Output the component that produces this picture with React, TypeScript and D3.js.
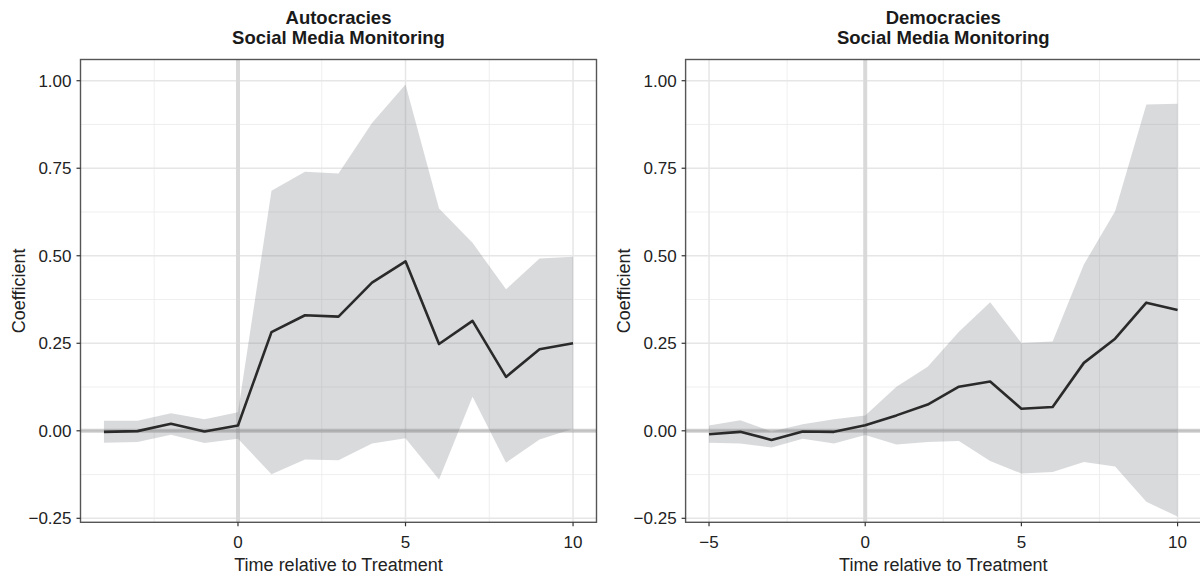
import React from 'react';
import * as d3 from 'd3';

// Autocracies panel
const autoTime = [-4, -3, -2, -1, 0, 1, 2, 3, 4, 5, 6, 7, 8, 9, 10];
const autoEstimate = [-0.003, -0.001, 0.02, -0.002, 0.015, 0.282, 0.33, 0.326, 0.423, 0.484, 0.248, 0.314, 0.154, 0.233, 0.25];
const autoLower = [-0.034, -0.032, -0.011, -0.035, -0.023, -0.124, -0.082, -0.084, -0.036, -0.021, -0.139, 0.097, -0.091, -0.025, 0.006];
const autoUpper = [0.029, 0.029, 0.05, 0.033, 0.053, 0.686, 0.74, 0.735, 0.879, 0.989, 0.635, 0.537, 0.404, 0.492, 0.497];

// Democracies panel
const demoTime = [-5, -4, -3, -2, -1, 0, 1, 2, 3, 4, 5, 6, 7, 8, 9, 10];
const demoEstimate = [-0.01, -0.003, -0.026, -0.002, -0.003, 0.016, 0.044, 0.075, 0.126, 0.141, 0.063, 0.068, 0.194, 0.263, 0.366, 0.345];
const demoLower = [-0.034, -0.036, -0.048, -0.023, -0.036, -0.012, -0.039, -0.032, -0.029, -0.086, -0.122, -0.118, -0.089, -0.102, -0.203, -0.245];
const demoUpper = [0.015, 0.03, -0.002, 0.019, 0.033, 0.044, 0.126, 0.183, 0.283, 0.367, 0.251, 0.255, 0.475, 0.627, 0.932, 0.934];

const yTicks = [-0.25, 0, 0.25, 0.5, 0.75, 1.0];
const yMinor = [-0.125, 0.125, 0.375, 0.625, 0.875];
const xTicks = [-5, 0, 5, 10];
const xMinor = [-2.5, 2.5, 7.5];

const FONT = 'Liberation Sans, Arial, Helvetica, sans-serif';
const TOP = 59.5;
const BOTTOM = 522.3;

type PanelProps = {
  id: string;
  title: string;
  time: number[];
  est: number[];
  lo: number[];
  hi: number[];
  xDomain: [number, number];
  left: number;
  right: number;
};

function Panel({ id, title, time, est, lo, hi, xDomain, left, right }: PanelProps) {
  const x = d3.scaleLinear().domain(xDomain).range([left, right]);
  const y = d3.scaleLinear().domain([-0.2614, 1.0606]).range([BOTTOM, TOP]);
  const idx = d3.range(time.length);

  const area = d3.area<number>()
    .x(i => x(time[i]))
    .y0(i => y(lo[i]))
    .y1(i => y(hi[i]));
  const line = d3.line<number>()
    .x(i => x(time[i]))
    .y(i => y(est[i]));

  const inX = (v: number) => v >= xDomain[0] && v <= xDomain[1];
  const cx = (left + right) / 2;
  const cy = (TOP + BOTTOM) / 2;
  const fmt = d3.format('.2f');
  const [t1, t2] = title.split('\n');

  return (
    <g>
      <defs>
        <clipPath id={id}>
          <rect x={left} y={TOP} width={right - left} height={BOTTOM - TOP} />
        </clipPath>
      </defs>
      <g clipPath={`url(#${id})`}>
        <rect x={left} y={TOP} width={right - left} height={BOTTOM - TOP} fill="#fff" />
        {yMinor.map(v => (
          <line key={'ym' + v} x1={left} x2={right} y1={y(v)} y2={y(v)} stroke="#ebebeb" strokeWidth={0.8} />
        ))}
        {xMinor.filter(inX).map(v => (
          <line key={'xm' + v} x1={x(v)} x2={x(v)} y1={TOP} y2={BOTTOM} stroke="#ebebeb" strokeWidth={0.8} />
        ))}
        {yTicks.map(v => (
          <line key={'yM' + v} x1={left} x2={right} y1={y(v)} y2={y(v)} stroke="#e6e6e6" strokeWidth={1.5} />
        ))}
        {xTicks.filter(inX).map(v => (
          <line key={'xM' + v} x1={x(v)} x2={x(v)} y1={TOP} y2={BOTTOM} stroke="#e6e6e6" strokeWidth={1.5} />
        ))}
        <line x1={x(0)} x2={x(0)} y1={TOP} y2={BOTTOM} stroke="#d9d9d9" strokeWidth={4} />
        <path d={area(idx) || ''} fill="rgb(120,122,128)" fillOpacity={0.28} />
        <line x1={left} x2={right} y1={y(0)} y2={y(0)} stroke="#787878" strokeOpacity={0.35} strokeWidth={4} />
        <path d={line(idx) || ''} fill="none" stroke="#2a2a2a" strokeWidth={2.6} strokeLinejoin="round" />
      </g>
      <rect x={left} y={TOP} width={right - left} height={BOTTOM - TOP} fill="none" stroke="#555" strokeWidth={1.4} />

      {yTicks.map(v => (
        <g key={'yt' + v}>
          <line x1={left - 4} x2={left} y1={y(v)} y2={y(v)} stroke="#333" strokeWidth={1.2} />
          <text x={left - 9} y={y(v)} dy="0.35em" textAnchor="end" fontSize={17} fill="#222" fontFamily={FONT}>
            {fmt(v).replace('-', '\u2212')}
          </text>
        </g>
      ))}
      {xTicks.filter(inX).map(v => (
        <g key={'xt' + v}>
          <line x1={x(v)} x2={x(v)} y1={BOTTOM} y2={BOTTOM + 4} stroke="#333" strokeWidth={1.2} />
          <text x={x(v)} y={547.5} textAnchor="middle" fontSize={17} fill="#222" fontFamily={FONT}>
            {String(v).replace('-', '\u2212')}
          </text>
        </g>
      ))}

      <text x={cx} y={570.5} textAnchor="middle" fontSize={18} fill="#222" fontFamily={FONT}>
        Time relative to Treatment
      </text>
      <text transform={`translate(${left - 56},${cy}) rotate(-90)`} textAnchor="middle" fontSize={18} fill="#222" fontFamily={FONT}>
        Coefficient
      </text>
      <text x={cx} y={24} textAnchor="middle" fontSize={18.5} fontWeight="bold" fill="#1a1a1a" fontFamily={FONT}>
        {t1}
      </text>
      <text x={cx} y={44} textAnchor="middle" fontSize={18.5} fontWeight="bold" fill="#1a1a1a" fontFamily={FONT}>
        {t2}
      </text>
    </g>
  );
}

export default function App() {
  return (
    <svg width={1200} height={577} style={{ position: 'absolute', left: 0, top: 0, background: '#fff' }}>
      <Panel
        id="clip-auto"
        title={'Autocracies\nSocial Media Monitoring'}
        time={autoTime}
        est={autoEstimate}
        lo={autoLower}
        hi={autoUpper}
        xDomain={[-4.7, 10.7]}
        left={80.5}
        right={596.5}
      />
      <Panel
        id="clip-demo"
        title={'Democracies\nSocial Media Monitoring'}
        time={demoTime}
        est={demoEstimate}
        lo={demoLower}
        hi={demoUpper}
        xDomain={[-5.75, 10.75]}
        left={685.6}
        right={1201}
      />
    </svg>
  );
}
